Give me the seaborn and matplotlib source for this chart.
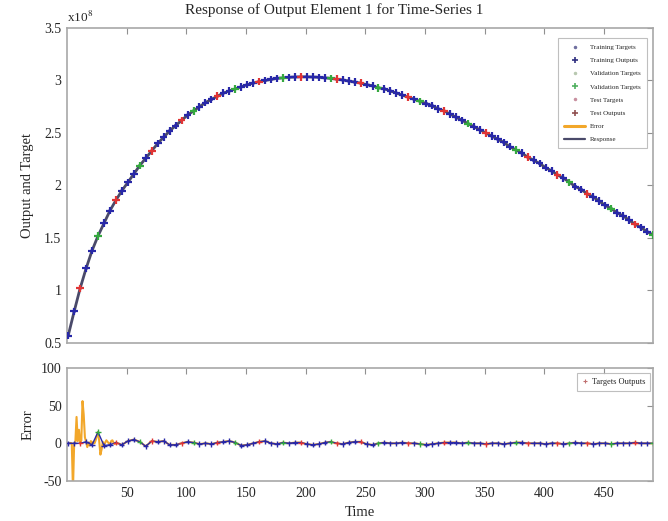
import numpy as np
import pandas as pd
import matplotlib
matplotlib.use("Agg")
import matplotlib.pyplot as plt
import seaborn as sns
from matplotlib.lines import Line2D

# ---------------- data ----------------
time = list(range(1, 492, 5))  # sample times shown with markers

# target / output values in units of 1e8
target_e8 = [
    0.57, 0.80, 1.02, 1.21, 1.38, 1.52, 1.64, 1.76, 1.86, 1.95,
    2.03, 2.11, 2.19, 2.26, 2.33, 2.40, 2.46, 2.52, 2.57, 2.62,
    2.67, 2.71, 2.75, 2.79, 2.82, 2.85, 2.88, 2.90, 2.92, 2.94,
    2.96, 2.975, 2.99, 3.00, 3.01, 3.02, 3.025, 3.03, 3.033, 3.035,
    3.035, 3.033, 3.03, 3.025, 3.02, 3.012, 3.005, 2.995, 2.985, 2.975,
    2.96, 2.95, 2.93, 2.92, 2.90, 2.88, 2.86, 2.84, 2.82, 2.80,
    2.78, 2.76, 2.73, 2.71, 2.68, 2.65, 2.62, 2.59, 2.56, 2.53,
    2.50, 2.47, 2.44, 2.41, 2.37, 2.34, 2.31, 2.27, 2.24, 2.21,
    2.17, 2.14, 2.10, 2.07, 2.03, 1.99, 1.96, 1.92, 1.89, 1.85,
    1.81, 1.78, 1.74, 1.71, 1.67, 1.63, 1.60, 1.56, 1.53,
]

# error (targets - outputs) at the marker times
error_main = [
    0, 0, 0, 2, -2, 15, -3, -2, 1, -2,
    3, 5, 2, -4, 3, 2, 3, -2, -2, 0,
    2, 1, -1, 0, -1, 1, 2, 3, 1, -3,
    -2, 0, 2, 3, 0, -1, 1, 0, 1, 1,
    -1, -2, -1, 1, 2, 0, -1, 1, 2, 2,
    -1, -2, 0, 1, 0, 0, 1, 0, 0, -1,
    -2, -1, 0, 1, 1, 1, 0, 1, 0, 0,
    -1, 0, 0, -1, 0, 1, 1, 0, 0, 0,
    -1, 0, 0, -1, 0, 1, 0, 0, -1, 0,
    0, -1, 0, 0, 0, 1, 0, 0, 0,
]

# additional early error samples (the start-up transient)
spike_time = [2, 3, 4, 5, 7, 8, 9, 10, 12, 13, 14, 15, 17, 18, 19, 20,
              22, 23, 24, 25, 27, 28, 29, 30, 32, 33, 34, 35, 37, 38, 39, 40]
spike_error = [0, 0.5, 0, -62, 2, 35, 3, 18, 4, 56, 38, 8, -5, 1, -3, 3,
               2, 0, 4, 10, 3, -15, -8, 2, 1, 4, 2, 0, 3, 4, 1, -1]

# data split per marker: T = training, V = validation, S = test
split = ("TTSTTVTTST" "TTVTSTTTTS" "TVTTTSTTVT" "TTSTTTVTTS" "TTTTVSTTTS"
         "TTVTTTTSTV" "TTTSTTTVTT" "STTTTVTSTT" "TTSTVTTSTT" "TVTTTSTTV")

set_names = {"T": "Training", "V": "Validation", "S": "Test"}

df = pd.DataFrame({
    "time": time,
    "target": target_e8,
    "output": [t - e * 1e-8 for t, e in zip(target_e8, error_main)],
    "error": error_main,
    "set": [set_names[c] for c in split],
})
err_df = pd.concat([
    df[["time", "error"]],
    pd.DataFrame({"time": spike_time, "error": spike_error}),
], ignore_index=True).sort_values("time").reset_index(drop=True)

# ---------------- style ----------------
sns.set_theme(style="white")
plt.rcParams["font.family"] = ["Liberation Serif", "DejaVu Serif"]
plt.rcParams["mathtext.fontset"] = "stix"
plt.rcParams["axes.unicode_minus"] = False

c_train = "#2828a8"
c_val = "#35a83f"
c_test = "#e03535"
c_err = "#f2a72a"
c_resp = "#4a4a6a"
spine_c = "#a8a8a8"
pal = {"Training": c_train, "Validation": c_val, "Test": c_test}

fig = plt.figure(figsize=(6.68, 5.21), dpi=100)
ax1 = fig.add_axes([0.1003, 0.3417, 0.8772, 0.6046])
ax2 = fig.add_axes([0.1003, 0.0768, 0.8772, 0.2169])

# ---------------- top panel ----------------
sns.lineplot(data=df, x="time", y="output", ax=ax1, color=c_resp, lw=2.0,
             legend=False, zorder=1)
sns.scatterplot(data=df, x="time", y="output", hue="set", palette=pal,
                marker="+", s=30, linewidth=1.6, ax=ax1, legend=False, zorder=3)
sns.scatterplot(data=df, x="time", y="target", hue="set", palette=pal,
                marker=".", s=22, linewidth=0, ax=ax1, legend=False, zorder=4)

ax1.set_xlim(0, 491)
ax1.set_ylim(0.5, 3.5)
ax1.set_yticks([0.5, 1, 1.5, 2, 2.5, 3, 3.5])
ax1.set_yticklabels(["0.5", "1", "1.5", "2", "2.5", "3", "3.5"])
ax1.set_xticks([50, 100, 150, 200, 250, 300, 350, 400, 450])
ax1.set_xticklabels([])
ax1.set_xlabel("")
ax1.set_ylabel("Output and Target", fontsize=10.5)
ax1.yaxis.set_label_coords(-0.056, 0.5)
ax1.text(0.0, 1.008, r"x10$^{8}$", transform=ax1.transAxes, fontsize=9.5,
         ha="left", va="bottom")

handles = [
    Line2D([], [], ls="none", marker=".", ms=3, color="#7070a0"),
    Line2D([], [], ls="none", marker="+", ms=5, mew=1.2, color="#303080"),
    Line2D([], [], ls="none", marker=".", ms=3, color="#b8c8b0"),
    Line2D([], [], ls="none", marker="+", ms=5, mew=1.2, color="#50b060"),
    Line2D([], [], ls="none", marker=".", ms=3, color="#c890a0"),
    Line2D([], [], ls="none", marker="+", ms=5, mew=1.2, color="#905050"),
    Line2D([], [], color=c_err, lw=2.2),
    Line2D([], [], color=c_resp, lw=1.6),
]
labels = ["Training Targets", "Training Outputs", "Validation Targets",
          "Validation Targets", "Test Targets", "Test Outputs", "Error",
          "Response"]
leg = ax1.legend(handles, labels, loc="upper right",
                 bbox_to_anchor=(0.9898, 0.968), borderaxespad=0,
                 fontsize=5.0, frameon=True,
                 fancybox=False, edgecolor="#b0b0b0", labelspacing=1.05,
                 handlelength=3.0, borderpad=0.9, handletextpad=0.7)
leg.get_frame().set_linewidth(0.8)

# ---------------- bottom panel ----------------
sns.lineplot(data=err_df, x="time", y="error", ax=ax2, color=c_err, lw=1.5,
             legend=False, zorder=2, estimator=None)
sns.lineplot(data=df, x="time", y="error", ax=ax2, color=c_train, lw=1.0,
             legend=False, zorder=3)
sns.scatterplot(data=df, x="time", y="error", hue="set", palette=pal,
                marker="+", s=14, linewidth=1.0, ax=ax2, legend=False, zorder=4)

ax2.set_xlim(0, 491)
ax2.set_ylim(-50, 100)
ax2.set_yticks([-50, 0, 50, 100])
ax2.set_xticks([50, 100, 150, 200, 250, 300, 350, 400, 450])
ax2.set_xlabel("Time", fontsize=10.5, labelpad=5)
ax2.set_ylabel("Error", fontsize=10.5)
ax2.yaxis.set_label_coords(-0.056, 0.5)
leg2 = ax2.legend([Line2D([], [], ls="none", marker="+", ms=3, mew=0.8,
                          color="#c07070")],
                  ["Targets Outputs"], loc="upper right",
                  bbox_to_anchor=(0.995, 0.956), borderaxespad=0,
                  fontsize=6.0, frameon=True,
                  fancybox=False, edgecolor="#b0b0b0", handlelength=0.8,
                  handletextpad=0.4, borderpad=0.6)
leg2.get_frame().set_linewidth(0.8)

for ax in (ax1, ax2):
    for s in ax.spines.values():
        s.set_color(spine_c)
        s.set_linewidth(1.2)
    ax.tick_params(direction="in", length=4, width=0.8, color="#909090",
                   labelsize=10, top=True, right=True, pad=4)

fig.text(0.5, 0.981, "Response of Output Element 1 for Time-Series 1",
         ha="center", va="center", fontsize=11)

fig.savefig("out.png", dpi=100)
